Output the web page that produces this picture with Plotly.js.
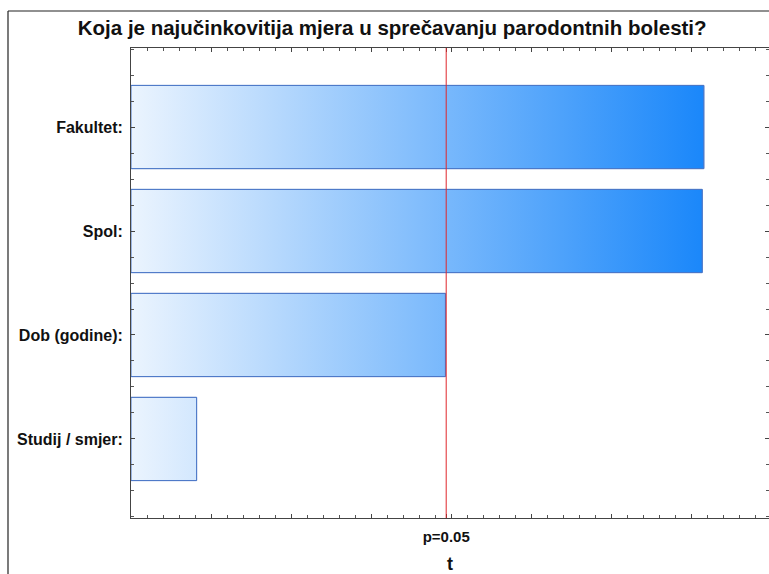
<!DOCTYPE html>
<html>
<head>
<meta charset="utf-8">
<script src="https://cdn.plot.ly/plotly-3.0.1.min.js"></script>
<style>
  html, body { margin: 0; padding: 0; background: #ffffff; }
  #chart { width: 769px; height: 574px; }
</style>
</head>
<body>
<div id="chart"></div>
<script>
// ---- data ----
const categories = ['Fakultet:', 'Spol:', 'Dob (godine):', 'Studij / smjer:'];
const tValues = [3.58, 3.57, 1.965, 0.41];
const pCritical = 1.97;
const pLabel = 'p=0.05';
const majorTicks = [0.5, 1.0, 1.5, 2.0, 2.5, 3.0, 3.5];
const titleText = 'Koja je najučinkovitija mjera u sprečavanju parodontnih bolesti?';
const xTitle = 't';

// ---- styling ----
const FONT = 'Liberation Sans, Arial, sans-serif';
const barHalf = 0.4;
const outline = '#4a76c6';
const gradStop = Math.max(...tValues);

const idx = categories.map((_, i) => i);
const traces = [];

// bar trace (outline)
traces.push({
  type: 'bar', orientation: 'h',
  y: idx, x: tValues, width: barHalf * 2,
  marker: { color: 'rgba(0,0,0,0)', line: { color: outline, width: 1 } },
  hoverinfo: 'x+text', text: categories, textposition: 'none',
  showlegend: false
});

// gradient fill for each bar (same data, drawn through the axes)
categories.forEach((c, i) => {
  const v = tValues[i];
  traces.push({
    type: 'scatter', mode: 'lines',
    x: [0, v, v, 0, 0],
    y: [i - barHalf, i - barHalf, i + barHalf, i + barHalf, i - barHalf],
    fill: 'toself',
    fillgradient: {
      type: 'horizontal', start: 0, stop: gradStop,
      colorscale: [[0, '#ebf4fe'], [1, '#1a87fa']]
    },
    line: { color: outline, width: 1 },
    hoverinfo: 'skip', showlegend: false
  });
});

const tickvals = majorTicks.concat([pCritical]);
const ticktext = majorTicks.map(() => '').concat([pLabel]);

// plot area: left 131, top 48, right 769, bottom 518
const plotL = 131, plotT = 48, plotW = 638, plotH = 470;
const frameX = (8 - plotL) / plotW;
const frameY = (plotT + plotH - 11) / plotH;

const layout = {
  width: 769, height: 574,
  margin: { l: plotL, r: 769 - plotL - plotW, t: plotT, b: 574 - plotT - plotH, pad: 0 },
  paper_bgcolor: '#ffffff', plot_bgcolor: '#ffffff',
  font: { family: FONT, color: '#111111' },
  title: {
    text: titleText,
    font: { family: FONT, size: 20.5, weight: 'bold', color: '#111111' },
    xref: 'container', x: 0.51, xanchor: 'center',
    yref: 'container', y: 1 - 28 / 574, yanchor: 'middle'
  },
  xaxis: {
    range: [0, plotW / 160],
    tickmode: 'array', tickvals: tickvals, ticktext: ticktext,
    ticks: 'inside', ticklen: 4, tickwidth: 1, tickcolor: '#444',
    minor: { dtick: 0.1, tick0: 0, ticks: 'inside', ticklen: 3, tickwidth: 1, tickcolor: '#555', showgrid: false },
    showline: true, linecolor: '#444', linewidth: 1, mirror: 'allticks',
    showgrid: false, zeroline: false,
    tickfont: { family: FONT, size: 15, weight: 'bold', color: '#111' },
    ticklabelstandoff: 5,
    title: { text: xTitle, font: { family: FONT, size: 18, weight: 'bold', color: '#111' }, standoff: 24 }
  },
  yaxis: {
    range: [3.76, -0.76],
    tickmode: 'array', tickvals: idx, ticktext: categories,
    ticks: 'inside', ticklen: 4, tickwidth: 1, tickcolor: '#444',
    minor: { dtick: 0.25, tick0: 0, ticks: 'inside', ticklen: 3, tickwidth: 1, tickcolor: '#555', showgrid: false },
    showline: true, linecolor: '#444', linewidth: 1, mirror: 'allticks',
    showgrid: false, zeroline: false,
    tickfont: { family: FONT, size: 16, weight: 'bold', color: '#111' },
    ticklabelstandoff: 4
  },
  bargap: 0.2,
  shapes: [
    { type: 'line', xref: 'x', yref: 'paper', x0: pCritical, x1: pCritical, y0: 0, y1: 1,
      line: { color: '#e0262b', width: 1 }, layer: 'above' },
    { type: 'line', xref: 'paper', yref: 'paper', x0: frameX, x1: frameX, y0: -0.2, y1: frameY,
      line: { color: '#222', width: 1.2 } },
    { type: 'line', xref: 'paper', yref: 'paper', x0: frameX, x1: 1.2, y0: frameY, y1: frameY,
      line: { color: '#222', width: 1.2 } }
  ]
};

Plotly.newPlot('chart', traces, layout, { displayModeBar: false, staticPlot: true });
</script>
</body>
</html>
